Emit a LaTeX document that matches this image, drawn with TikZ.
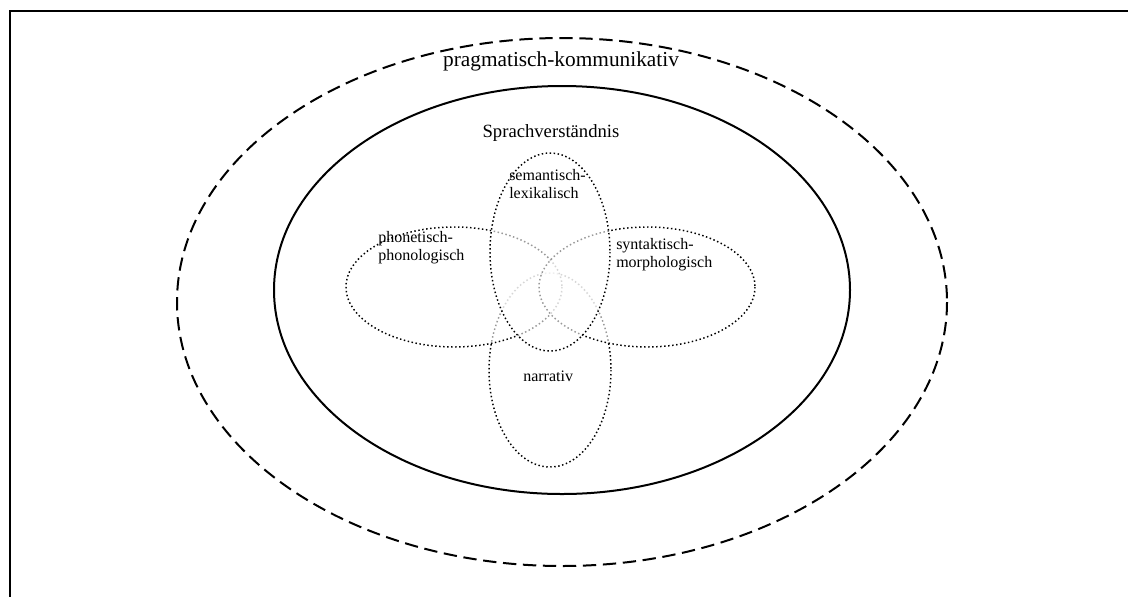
\documentclass[tikz,border=0pt]{standalone}
\usepackage{fontspec}
\setmainfont{Liberation Serif}
\begin{document}
\begin{tikzpicture}[x=0.75pt,y=-0.75pt,
  frameline/.style={line width=1.5pt},
  outerell/.style={line width=1.5pt,dash pattern=on 10pt off 5pt},
  innerell/.style={line width=1.5pt},
  dotell/.style={line width=1.1pt,dash pattern=on 1.1pt off 1.9pt,fill=white,fill opacity=0.6},
  lbl/.style={inner sep=0pt,font=\fontsize{12}{13.5}\selectfont,align=left,anchor=base west}]
\useasboundingbox (0,0) rectangle (1128,597);
\coordinate (ftr) at (1128,11);
\coordinate (ftl) at (10,11);
\coordinate (fbl) at (10,597);
\draw[frameline] (ftr) -- (ftl) -- (fbl);
% outer ellipses
\draw[outerell] (562,302) ellipse [x radius=385, y radius=264];
\draw[innerell] (562,290) ellipse [x radius=288, y radius=204];
% dotted ellipses
\draw[dotell] (550,370) ellipse [x radius=61, y radius=97];
\draw[dotell] (454,287) ellipse [x radius=108, y radius=60];
\draw[dotell] (647,287) ellipse [x radius=108, y radius=60];
\draw[dotell] (550,252) ellipse [x radius=60, y radius=99];
% labels
\node[inner sep=0pt,font=\fontsize{16}{18}\selectfont,anchor=base] (prag) at (561,66) {pragmatisch-kommunikativ};
\node[inner sep=0pt,font=\fontsize{14}{16}\selectfont,anchor=base] (sprach) at (551,137) {Sprachverständnis};
\node[lbl] (sem) at (509,198) {semantisch-\\lexikalisch};
\node[lbl] (phon) at (378,260) {phonetisch-\\phonologisch};
\node[lbl] (synt) at (616,267) {syntaktisch-\\morphologisch};
\node[lbl] (narr) at (523,381) {narrativ};
\end{tikzpicture}
\end{document}
